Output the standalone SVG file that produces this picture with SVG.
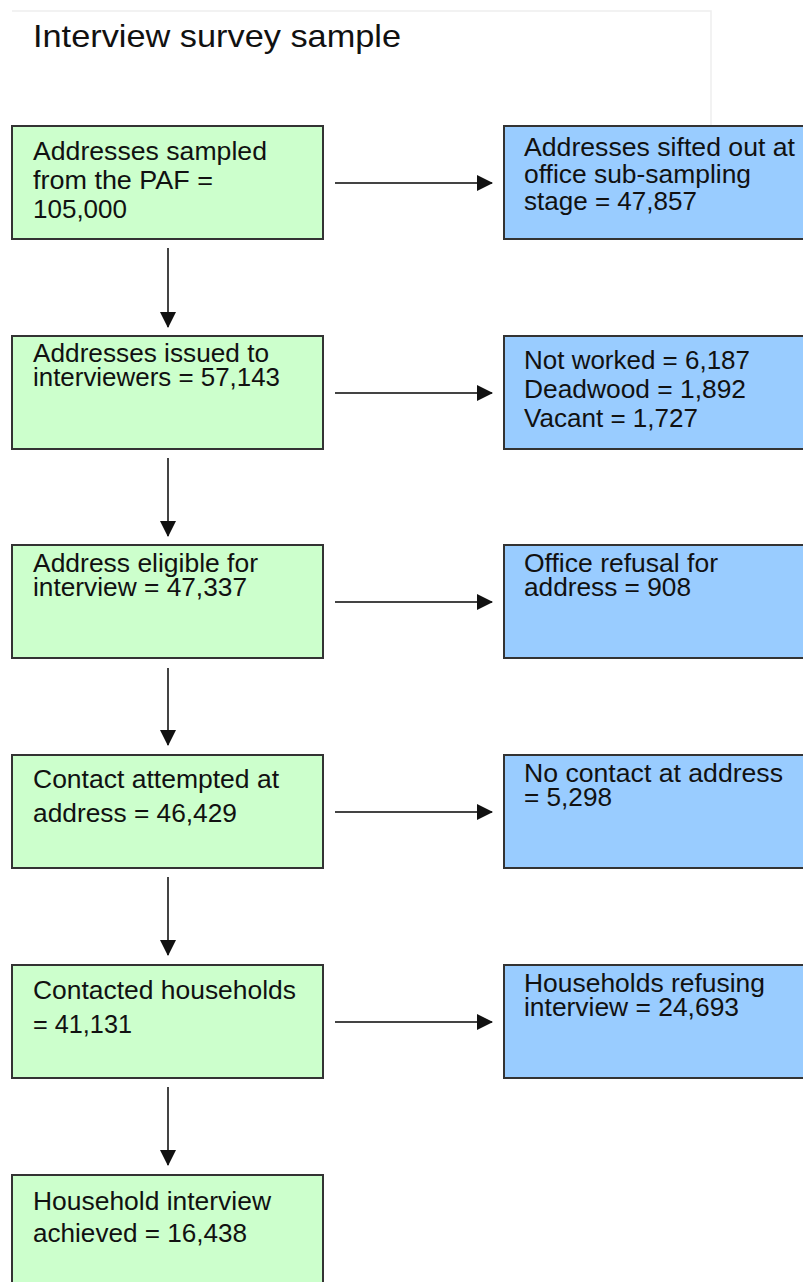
<svg xmlns="http://www.w3.org/2000/svg" width="803" height="1282" viewBox="0 0 803 1282">
<style>
  .g { fill: #ccffcc; stroke: #333333; stroke-width: 2; }
  .b { fill: #99ccff; stroke: #333333; stroke-width: 2; }
  .t { font-family: "Liberation Sans", Arial, sans-serif; font-size: 26px; fill: #111111; }
  .title { font-family: "Liberation Sans", Arial, sans-serif; font-size: 32px; fill: #111111; }
  .c { stroke: #444444; stroke-width: 2; fill: none; marker-end: url(#ah); }
</style>
<defs>
  <marker id="ah" viewBox="0 0 16 16" refX="15" refY="8" markerUnits="userSpaceOnUse" markerWidth="16" markerHeight="16" orient="auto">
    <path d="M0,0 L16,8 L0,16 Z" fill="#111111"/>
  </marker>
</defs>
<rect width="803" height="1282" fill="#ffffff"/>

<g id="title">
  <path d="M12,11 H711 V126" fill="none" stroke="#eeeeee" stroke-width="1.5"/>
  <text class="title" x="33" y="47" textLength="368" lengthAdjust="spacingAndGlyphs">Interview survey sample</text>
</g>

<g id="connectors">
  <line class="c" x1="335" y1="183" x2="492" y2="183"/>
  <line class="c" x1="335" y1="393" x2="492" y2="393"/>
  <line class="c" x1="335" y1="602" x2="492" y2="602"/>
  <line class="c" x1="335" y1="812" x2="492" y2="812"/>
  <line class="c" x1="335" y1="1022" x2="492" y2="1022"/>
  <line class="c" x1="168" y1="248" x2="168" y2="327"/>
  <line class="c" x1="168" y1="458" x2="168" y2="536"/>
  <line class="c" x1="168" y1="668" x2="168" y2="745"/>
  <line class="c" x1="168" y1="877" x2="168" y2="955"/>
  <line class="c" x1="168" y1="1087" x2="168" y2="1165"/>
</g>

<g id="g1">
  <rect class="g" x="12" y="126" width="311" height="113"/>
  <text class="t" x="33" y="160" textLength="234" lengthAdjust="spacingAndGlyphs">Addresses sampled</text>
  <text class="t" x="33" y="189" textLength="180" lengthAdjust="spacingAndGlyphs">from the PAF =</text>
  <text class="t" x="33" y="218" textLength="94" lengthAdjust="spacingAndGlyphs">105,000</text>
</g>
<g id="b1">
  <rect class="b" x="504" y="126" width="310" height="113"/>
  <text class="t" x="524" y="156" textLength="271" lengthAdjust="spacingAndGlyphs">Addresses sifted out at</text>
  <text class="t" x="524" y="183" textLength="227" lengthAdjust="spacingAndGlyphs">office sub-sampling</text>
  <text class="t" x="524" y="210" textLength="173" lengthAdjust="spacingAndGlyphs">stage = 47,857</text>
</g>

<g id="g2">
  <rect class="g" x="12" y="336" width="311" height="113"/>
  <text class="t" x="33" y="362" textLength="236" lengthAdjust="spacingAndGlyphs">Addresses issued to</text>
  <text class="t" x="33" y="386" textLength="247" lengthAdjust="spacingAndGlyphs">interviewers = 57,143</text>
</g>
<g id="b2">
  <rect class="b" x="504" y="336" width="310" height="113"/>
  <text class="t" x="524" y="369" textLength="226" lengthAdjust="spacingAndGlyphs">Not worked = 6,187</text>
  <text class="t" x="524" y="398" textLength="222" lengthAdjust="spacingAndGlyphs">Deadwood = 1,892</text>
  <text class="t" x="524" y="427" textLength="174" lengthAdjust="spacingAndGlyphs">Vacant = 1,727</text>
</g>

<g id="g3">
  <rect class="g" x="12" y="545" width="311" height="113"/>
  <text class="t" x="33" y="572" textLength="225" lengthAdjust="spacingAndGlyphs">Address eligible for</text>
  <text class="t" x="33" y="596" textLength="214" lengthAdjust="spacingAndGlyphs">interview = 47,337</text>
</g>
<g id="b3">
  <rect class="b" x="504" y="545" width="310" height="113"/>
  <text class="t" x="524" y="572" textLength="194" lengthAdjust="spacingAndGlyphs">Office refusal for</text>
  <text class="t" x="524" y="596" textLength="167" lengthAdjust="spacingAndGlyphs">address = 908</text>
</g>

<g id="g4">
  <rect class="g" x="12" y="755" width="311" height="113"/>
  <text class="t" x="33" y="788" textLength="246" lengthAdjust="spacingAndGlyphs">Contact attempted at</text>
  <text class="t" x="33" y="822" textLength="204" lengthAdjust="spacingAndGlyphs">address = 46,429</text>
</g>
<g id="b4">
  <rect class="b" x="504" y="755" width="310" height="113"/>
  <text class="t" x="524" y="782" textLength="259" lengthAdjust="spacingAndGlyphs">No contact at address</text>
  <text class="t" x="524" y="806" textLength="88" lengthAdjust="spacingAndGlyphs">= 5,298</text>
</g>

<g id="g5">
  <rect class="g" x="12" y="965" width="311" height="113"/>
  <text class="t" x="33" y="999" textLength="263" lengthAdjust="spacingAndGlyphs">Contacted households</text>
  <text class="t" x="33" y="1033" textLength="99" lengthAdjust="spacingAndGlyphs">= 41,131</text>
</g>
<g id="b5">
  <rect class="b" x="504" y="965" width="310" height="113"/>
  <text class="t" x="524" y="992" textLength="241" lengthAdjust="spacingAndGlyphs">Households refusing</text>
  <text class="t" x="524" y="1016" textLength="215" lengthAdjust="spacingAndGlyphs">interview = 24,693</text>
</g>

<g id="g6">
  <rect class="g" x="12" y="1175" width="311" height="120"/>
  <text class="t" x="33" y="1210" textLength="238" lengthAdjust="spacingAndGlyphs">Household interview</text>
  <text class="t" x="33" y="1242" textLength="214" lengthAdjust="spacingAndGlyphs">achieved = 16,438</text>
</g>
</svg>
